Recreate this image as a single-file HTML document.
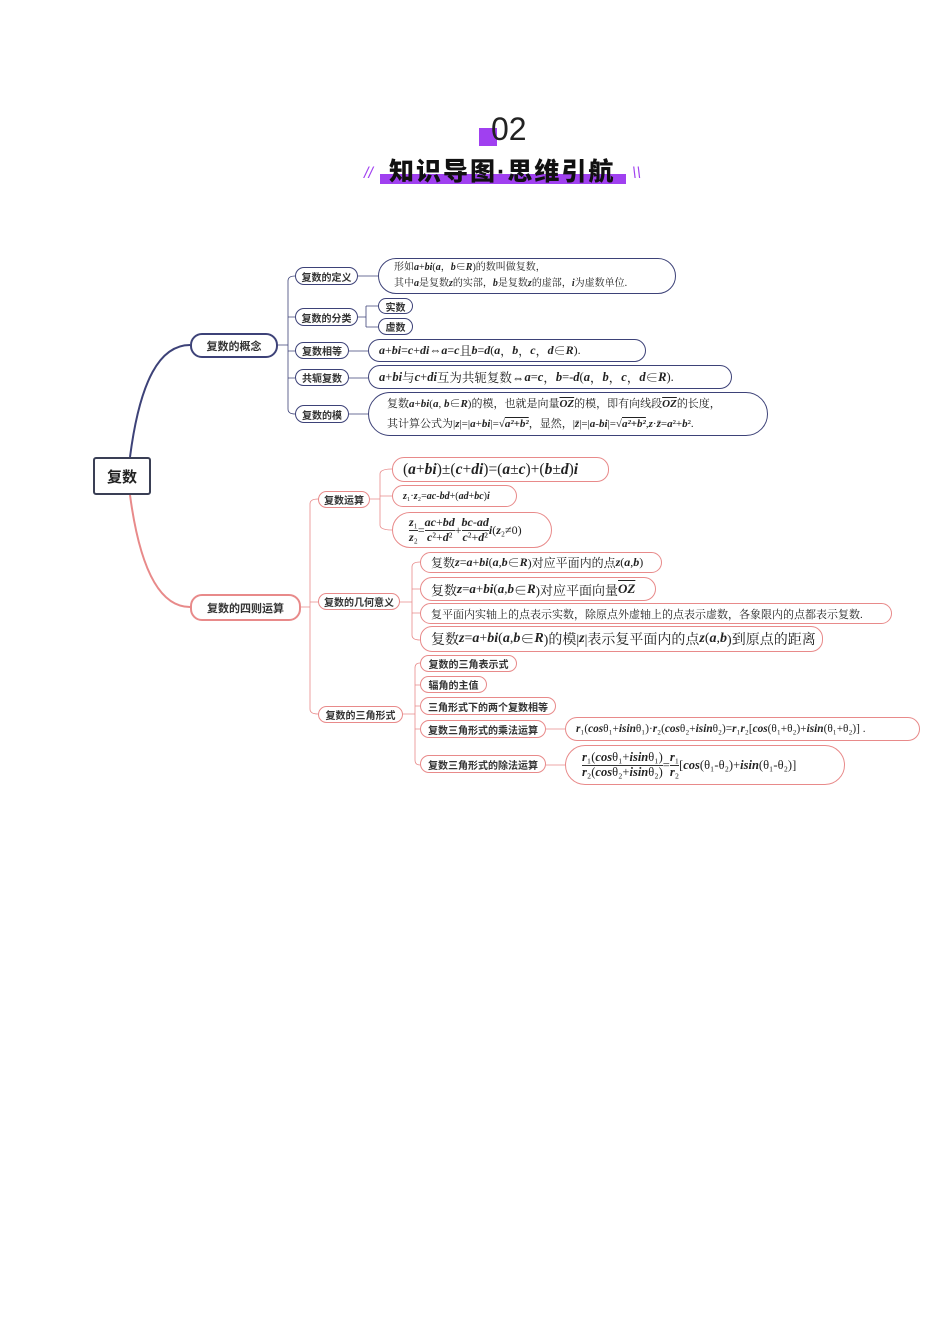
<!DOCTYPE html>
<html><head><meta charset="utf-8"><style>
body{margin:0;background:#fff;}
#p{position:relative;width:950px;height:1344px;overflow:hidden;font-family:"Liberation Serif","Noto Serif CJK SC",serif;color:#222;}
.n{position:absolute;box-sizing:border-box;border-radius:12px;background:#fff;display:flex;align-items:center;white-space:nowrap;}
.b{border:1.3px solid #3d4278;}
.r{border:1.3px solid #e88a8a;}
.lab{font-family:"Liberation Sans","Noto Sans CJK SC",sans-serif;font-weight:bold;font-size:10px;justify-content:center;color:#333;}
.f{font-size:10.5px;padding-left:10px;}
i{font-style:italic;font-weight:bold;}
.fr{display:inline-flex;flex-direction:column;align-items:center;vertical-align:middle;line-height:1.1;}
.fr span:first-child{border-bottom:1px solid #333;}
</style></head><body><div id="p">
<div style="position:absolute;left:479px;top:128px;width:18px;height:18px;background:#a040f0"></div>
<div style="position:absolute;left:491px;top:111px;font-family:'Liberation Sans',sans-serif;font-size:32px;color:#222;">02</div>
<div style="position:absolute;left:380px;top:174px;width:246px;height:10px;background:#a040f0"></div>
<div style="position:absolute;left:389px;top:152px;font-family:'Liberation Sans','Noto Sans CJK SC',sans-serif;font-weight:900;font-size:25px;color:#111;letter-spacing:2px;">知识导图·思维引航</div>
<div style="position:absolute;left:364px;top:165px;color:#a040f0;font-size:16px;font-family:'Liberation Sans',sans-serif;font-style:italic">//</div>
<div style="position:absolute;left:632px;top:165px;color:#a040f0;font-size:16px;font-family:'Liberation Sans',sans-serif;font-style:italic">\\</div>

<svg style="position:absolute;left:0;top:0" width="950" height="1344" fill="none">
<path d="M130 457 C140 380,160 345,190 345" stroke="#3d4278" stroke-width="2"/>
<path d="M130 495 C140 570,160 607,190 607" stroke="#e88a8a" stroke-width="2"/>
<g stroke="#3d4278" stroke-width="0.8">
<path d="M277 345H288M288 281V409M288 281Q288 276 295 276M288 317H295M288 351H295M288 378H295M288 409Q288 414 295 414"/>
<path d="M358 276H378M358 317H366M366 306V327M366 306Q366 306 378 306M366 327H378M349 351H368M349 378H368M349 414H368"/>
</g>
<g stroke="#e88a8a" stroke-width="0.8">
<path d="M300 607H310M310 504V709M310 504Q310 499 318 499M310 602H318M310 709Q310 714 318 714"/>
<path d="M370 499H380M380 474V525M380 474Q380 469 392 469M380 496H392M380 525Q380 530 392 530"/>
<path d="M400 602H412M412 567V635M412 567Q412 562 420 562M412 589H420M412 613H420M412 635Q412 640 420 640"/>
<path d="M403 714H415M415 668V760M415 668Q415 663 420 663M415 685H420M415 706H420M415 729H420M415 760Q415 765 420 765"/>
<path d="M546 729H565M546 765H565"/>
</g>
</svg>

<div class="n lab" style="left:93px;top:457px;width:58px;height:38px;border:2px solid #3a3f55;border-radius:3px;font-size:15px;color:#222">复数</div>
<div class="n b lab" style="left:190px;top:333px;width:88px;height:25px;border-width:2px;font-size:11px">复数的概念</div>
<div class="n r lab" style="left:190px;top:594px;width:111px;height:27px;border-width:2px;font-size:11px">复数的四则运算</div>

<div class="n b lab" style="left:295px;top:267px;width:63px;height:18px">复数的定义</div>
<div class="n b lab" style="left:295px;top:308px;width:63px;height:18px">复数的分类</div>
<div class="n b lab" style="left:295px;top:342px;width:54px;height:17px">复数相等</div>
<div class="n b lab" style="left:295px;top:369px;width:54px;height:17px">共轭复数</div>
<div class="n b lab" style="left:295px;top:405px;width:54px;height:18px">复数的模</div>
<div class="n b lab" style="left:378px;top:298px;width:35px;height:16px">实数</div>
<div class="n b lab" style="left:378px;top:318px;width:35px;height:17px">虚数</div>
<div class="n b f" style="left:378px;top:258px;width:298px;height:36px;border-radius:18px;font-size:10px;line-height:16px;padding-left:15px;display:block;padding-top:1px">形如<i>a</i>+<i>bi</i>(<i>a</i>，<i>b</i>∈<i>R</i>)的数叫做复数，<br>其中<i>a</i>是复数<i>z</i>的实部，<i>b</i>是复数<i>z</i>的虚部，<i>i</i>为虚数单位.</div>
<div class="n b f" style="left:368px;top:339px;width:278px;height:23px;font-size:12px"><i>a</i>+<i>bi</i>=<i>c</i>+<i>di</i>⇔<i>a</i>=<i>c</i>且<i>b</i>=<i>d</i>(<i>a</i>，<i>b</i>，<i>c</i>，<i>d</i>∈<i>R</i>).</div>
<div class="n b f" style="left:368px;top:365px;width:364px;height:24px;font-size:12.5px"><i>a</i>+<i>bi</i>与<i>c</i>+<i>di</i>互为共轭复数⇔<i>a</i>=<i>c</i>，<i>b</i>=-<i>d</i>(<i>a</i>，<i>b</i>，<i>c</i>，<i>d</i>∈<i>R</i>).</div>
<div class="n b f" style="left:368px;top:392px;width:400px;height:44px;border-radius:22px;font-size:11px;display:block;line-height:20px;padding-left:18px;padding-top:1px">复数<i>a</i>+<i>bi</i>(<i>a</i>, <i>b</i>∈<i>R</i>)的模，也就是向量<i style="text-decoration:overline">OZ</i>的模，即有向线段<i style="text-decoration:overline">OZ</i>的长度，<br>其计算公式为|<i>z</i>|=|<i>a</i>+<i>bi</i>|=√<i style="text-decoration:overline">a²+b²</i>，显然，|<i>z̄</i>|=|<i>a</i>-<i>bi</i>|=√<i style="text-decoration:overline">a²+b²</i>,<i>z</i>·<i>z̄</i>=<i>a</i>²+<i>b</i>².</div>

<div class="n r lab" style="left:318px;top:491px;width:52px;height:17px">复数运算</div>
<div class="n r lab" style="left:318px;top:593px;width:82px;height:17px">复数的几何意义</div>
<div class="n r lab" style="left:318px;top:706px;width:85px;height:17px">复数的三角形式</div>
<div class="n r f" style="left:392px;top:457px;width:217px;height:25px;font-size:15.5px">(<i>a</i>+<i>bi</i>)±(<i>c</i>+<i>di</i>)=(<i>a</i>±<i>c</i>)+(<i>b</i>±<i>d</i>)<i>i</i></div>
<div class="n r f" style="left:392px;top:485px;width:125px;height:22px;font-size:10px"><i>z</i>₁·<i>z</i>₂=<i>ac</i>-<i>bd</i>+(<i>ad</i>+<i>bc</i>)<i>i</i></div>
<div class="n r f" style="left:392px;top:512px;width:160px;height:36px;border-radius:18px;font-size:12px;padding-left:16px"><span class="fr"><span><i>z</i>₁</span><span><i>z</i>₂</span></span>=<span class="fr"><span><i>ac</i>+<i>bd</i></span><span><i>c</i>²+<i>d</i>²</span></span>+<span class="fr"><span><i>bc</i>-<i>ad</i></span><span><i>c</i>²+<i>d</i>²</span></span><i>i</i>(<i>z</i>₂≠0)</div>
<div class="n r f" style="left:420px;top:552px;width:242px;height:21px;font-size:12px">复数<i>z</i>=<i>a</i>+<i>bi</i>(<i>a</i>, <i>b</i>∈<i>R</i>)对应平面内的点<i>z</i>(<i>a</i>,<i>b</i>)</div>
<div class="n r f" style="left:420px;top:577px;width:236px;height:24px;font-size:13px">复数<i>z</i>=<i>a</i>+<i>bi</i>(<i>a</i>, <i>b</i>∈<i>R</i>)对应平面向量<i style="text-decoration:overline">OZ</i></div>
<div class="n r f" style="left:420px;top:603px;width:472px;height:21px;font-size:11px">复平面内实轴上的点表示实数，除原点外虚轴上的点表示虚数，各象限内的点都表示复数.</div>
<div class="n r f" style="left:420px;top:626px;width:403px;height:26px;font-size:14px">复数<i>z</i>=<i>a</i>+<i>bi</i>(<i>a</i>, <i>b</i>∈<i>R</i>)的模|<i>z</i>|表示复平面内的点<i>z</i>(<i>a</i>,<i>b</i>)到原点的距离</div>
<div class="n r lab" style="left:420px;top:655px;width:97px;height:17px">复数的三角表示式</div>
<div class="n r lab" style="left:420px;top:676px;width:67px;height:17px">辐角的主值</div>
<div class="n r lab" style="left:420px;top:697px;width:136px;height:18px">三角形式下的两个复数相等</div>
<div class="n r lab" style="left:420px;top:720px;width:126px;height:18px">复数三角形式的乘法运算</div>
<div class="n r lab" style="left:420px;top:755px;width:126px;height:18px">复数三角形式的除法运算</div>
<div class="n r f" style="left:565px;top:717px;width:355px;height:24px;font-size:11.3px"><i>r</i>₁(<i>cos</i>θ₁+<i>isin</i>θ₁)·<i>r</i>₂(<i>cos</i>θ₂+<i>isin</i>θ₂)=<i>r</i>₁<i>r</i>₂[<i>cos</i>(θ₁+θ₂)+<i>isin</i>(θ₁+θ₂)] .</div>
<div class="n r f" style="left:565px;top:745px;width:280px;height:40px;border-radius:20px;font-size:12.5px;padding-left:16px"><span class="fr"><span><i>r</i>₁(<i>cos</i>θ₁+<i>isin</i>θ₁)</span><span><i>r</i>₂(<i>cos</i>θ₂+<i>isin</i>θ₂)</span></span>=<span class="fr"><span><i>r</i>₁</span><span><i>r</i>₂</span></span>[<i>cos</i>(θ₁-θ₂)+<i>isin</i>(θ₁-θ₂)]</div>
</div></body></html>
